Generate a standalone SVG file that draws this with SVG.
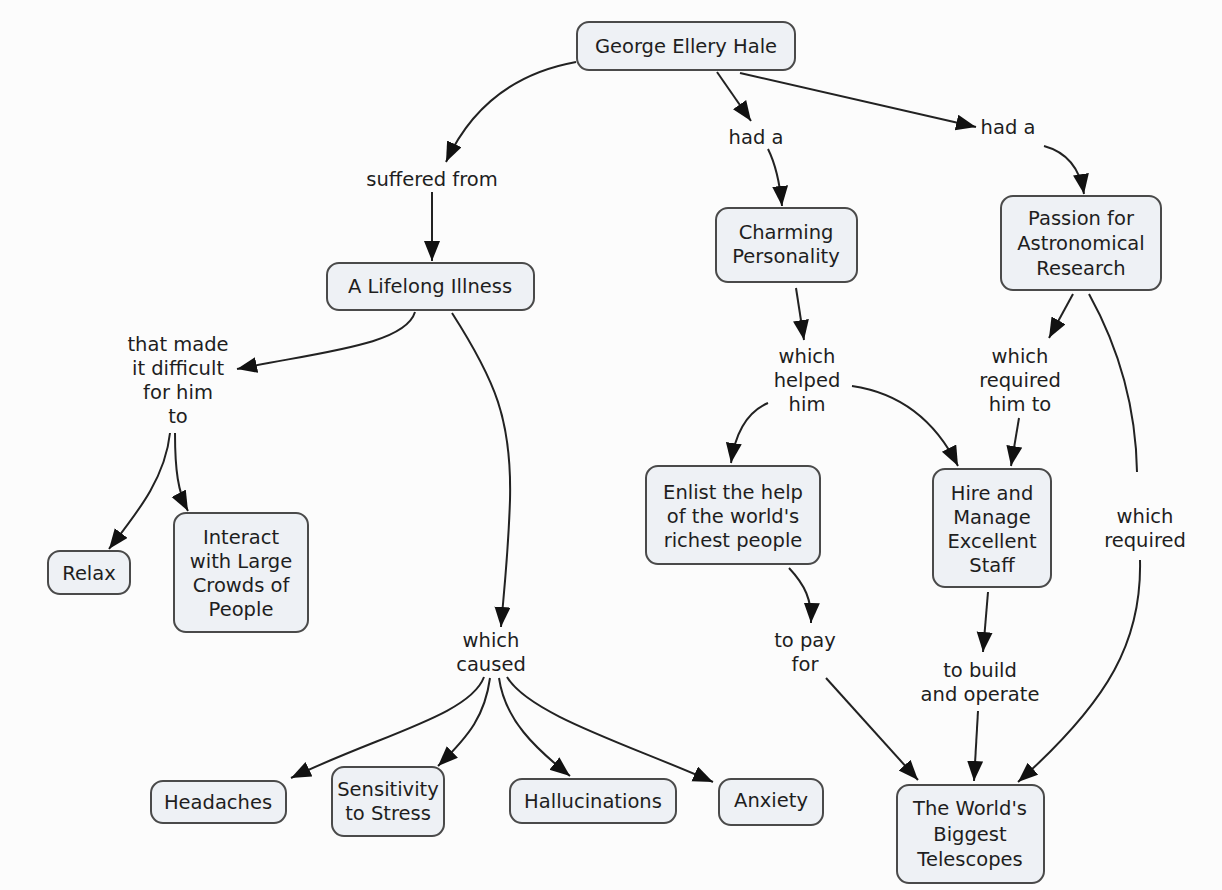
<svg xmlns="http://www.w3.org/2000/svg" width="1222" height="890" viewBox="0 0 1222 890">
  <style>
    .node rect { fill: #eef1f5; stroke: #4a4a4a; stroke-width: 2; }
    text { font-family: "DejaVu Sans", Verdana, sans-serif; font-size: 19.5px; fill: #1e1e1e; text-anchor: middle; }
    .links path { fill: none; stroke: #222; stroke-width: 2; }
    .arrow { marker-end: url(#head); }
  </style>
  <defs>
    <marker id="head" markerUnits="userSpaceOnUse" markerWidth="22" markerHeight="18" refX="20" refY="8" orient="auto">
      <path d="M0,0 L20,8 L0,16 z" fill="#111"/>
    </marker>
  </defs>
  <rect width="1222" height="890" fill="#fcfcfc"/>

  <!-- connectors -->
  <g class="links">
    <path class="arrow" d="M576 62 C 510 74, 470 110, 446 162"/>
    <path class="arrow" d="M432 192 L432 261"/>
    <path class="arrow" d="M717 72 L751 121"/>
    <path class="arrow" d="M768 149 C 776 165, 780 185, 782 206"/>
    <path class="arrow" d="M740 73 L976 127"/>
    <path class="arrow" d="M1044 146 C 1066 152, 1080 168, 1084 194"/>
    <path class="arrow" d="M415 312 C 405 345, 320 352, 237 369"/>
    <path class="arrow" d="M170 433 C 165 480, 135 515, 109 549"/>
    <path class="arrow" d="M175 433 C 175 470, 178 492, 188 511"/>
    <path class="arrow" d="M452 313 C 495 380, 512 420, 510 500 C 508 560, 503 600, 501 627"/>
    <path class="arrow" d="M484 677 C 470 715, 380 735, 291 778"/>
    <path class="arrow" d="M490 678 C 485 715, 470 735, 438 766"/>
    <path class="arrow" d="M499 678 C 505 720, 535 748, 570 776"/>
    <path class="arrow" d="M507 677 C 530 715, 630 745, 713 782"/>
    <path class="arrow" d="M796 288 L804 340"/>
    <path class="arrow" d="M768 403 C 745 413, 735 435, 731 463"/>
    <path class="arrow" d="M852 386 C 900 393, 935 420, 958 466"/>
    <path class="arrow" d="M1073 294 L1049 338"/>
    <path class="arrow" d="M1019 418 L1011 466"/>
    <path d="M1089 294 C 1120 350, 1136 410, 1137 472"/>
    <path class="arrow" d="M1140 560 C 1142 640, 1110 700, 1018 782"/>
    <path class="arrow" d="M789 568 C 805 585, 812 600, 811 623"/>
    <path class="arrow" d="M826 678 L918 780"/>
    <path class="arrow" d="M988 592 L983 652"/>
    <path class="arrow" d="M978 711 L974 781"/>
  </g>

  <!-- linking phrases -->
  <g id="lp-suffered"><text x="432" y="186">suffered from</text></g>
  <g id="lp-hada1"><text x="756" y="144">had a</text></g>
  <g id="lp-hada2"><text x="1008" y="134">had a</text></g>
  <g id="lp-difficult">
    <text x="178" y="351">that made</text>
    <text x="178" y="375">it difficult</text>
    <text x="178" y="399">for him</text>
    <text x="178" y="423">to</text>
  </g>
  <g id="lp-helped">
    <text x="807" y="363">which</text>
    <text x="807" y="387">helped</text>
    <text x="807" y="411">him</text>
  </g>
  <g id="lp-required-to">
    <text x="1020" y="363">which</text>
    <text x="1020" y="387">required</text>
    <text x="1020" y="411">him to</text>
  </g>
  <g id="lp-caused">
    <text x="491" y="647">which</text>
    <text x="491" y="671">caused</text>
  </g>
  <g id="lp-pay">
    <text x="805" y="647">to pay</text>
    <text x="805" y="671">for</text>
  </g>
  <g id="lp-build">
    <text x="980" y="677">to build</text>
    <text x="980" y="701">and operate</text>
  </g>
  <g id="lp-required">
    <text x="1145" y="523">which</text>
    <text x="1145" y="547">required</text>
  </g>

  <!-- concepts -->
  <g id="hale" class="node">
    <rect x="577" y="22" width="218" height="48" rx="12"/>
    <text x="686" y="53">George Ellery Hale</text>
  </g>
  <g id="illness" class="node">
    <rect x="327" y="263" width="207" height="47" rx="12"/>
    <text x="430" y="293">A Lifelong Illness</text>
  </g>
  <g id="charming" class="node">
    <rect x="716" y="208" width="141" height="74" rx="12"/>
    <text x="786" y="239">Charming</text>
    <text x="786" y="263">Personality</text>
  </g>
  <g id="passion" class="node">
    <rect x="1001" y="196" width="160" height="94" rx="12"/>
    <text x="1081" y="225">Passion for</text>
    <text x="1081" y="250">Astronomical</text>
    <text x="1081" y="275">Research</text>
  </g>
  <g id="relax" class="node">
    <rect x="48" y="551" width="82" height="43" rx="12"/>
    <text x="89" y="580">Relax</text>
  </g>
  <g id="crowds" class="node">
    <rect x="174" y="513" width="134" height="119" rx="12"/>
    <text x="241" y="544">Interact</text>
    <text x="241" y="568">with Large</text>
    <text x="241" y="592">Crowds of</text>
    <text x="241" y="616">People</text>
  </g>
  <g id="enlist" class="node">
    <rect x="646" y="466" width="174" height="98" rx="12"/>
    <text x="733" y="499">Enlist the help</text>
    <text x="733" y="523">of the world's</text>
    <text x="733" y="547">richest people</text>
  </g>
  <g id="hire" class="node">
    <rect x="933" y="469" width="118" height="118" rx="12"/>
    <text x="992" y="500">Hire and</text>
    <text x="992" y="524">Manage</text>
    <text x="992" y="548">Excellent</text>
    <text x="992" y="572">Staff</text>
  </g>
  <g id="headaches" class="node">
    <rect x="151" y="781" width="135" height="42" rx="12"/>
    <text x="218" y="809">Headaches</text>
  </g>
  <g id="stress" class="node">
    <rect x="332" y="767" width="112" height="69" rx="12"/>
    <text x="388" y="796">Sensitivity</text>
    <text x="388" y="820">to Stress</text>
  </g>
  <g id="hallucinations" class="node">
    <rect x="510" y="779" width="166" height="44" rx="12"/>
    <text x="593" y="808">Hallucinations</text>
  </g>
  <g id="anxiety" class="node">
    <rect x="719" y="779" width="104" height="46" rx="12"/>
    <text x="771" y="807">Anxiety</text>
  </g>
  <g id="telescopes" class="node">
    <rect x="897" y="785" width="147" height="98" rx="12"/>
    <text x="970" y="815">The World's</text>
    <text x="970" y="841">Biggest</text>
    <text x="970" y="866">Telescopes</text>
  </g>
</svg>
